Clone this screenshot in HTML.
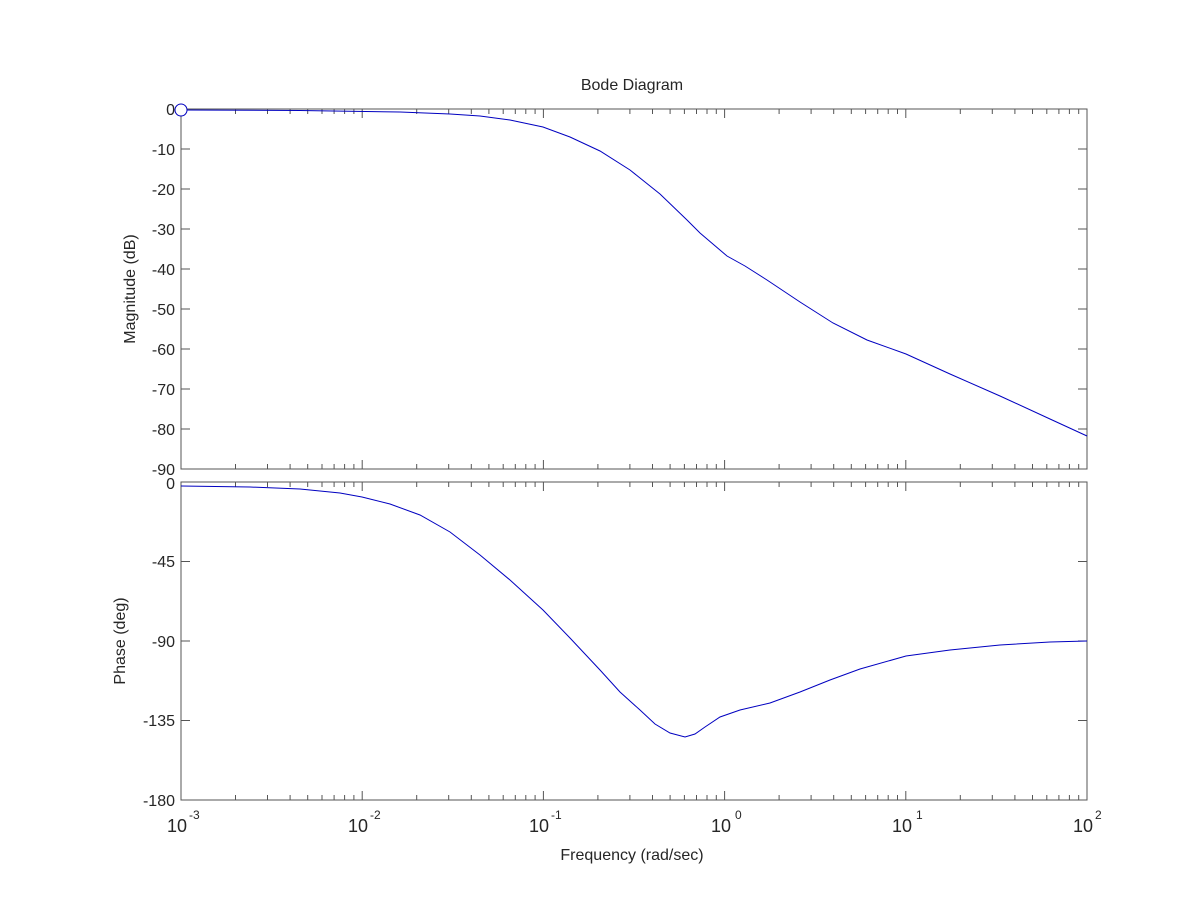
<!DOCTYPE html>
<html><head><style>body{margin:0;background:#fff}svg text{font-family:"Liberation Sans",Arial,sans-serif;font-size:16px;fill:#262626}</style></head>
<body>
<svg width="1201" height="900" xmlns="http://www.w3.org/2000/svg">
<rect width="1201" height="900" fill="#fff"/>
<defs>
<path id="mn" d="M0 109v5M0 469v-5M0 482v5M0 800v-5" stroke="#555" stroke-width="1"/>
<path id="mj" d="M0 109v9M0 469v-9M0 482v9M0 800v-9" stroke="#555" stroke-width="1"/>
</defs>
<g stroke="#555" stroke-width="1" fill="none">
<rect x="181" y="109" width="906" height="360"/>
<rect x="181" y="482" width="906" height="318"/>
<path d="M181 149h9M181 189h9M181 229h9M181 269h9M181 309h9M181 349h9M181 389h9M181 429h9M1087 149h-9M1087 189h-9M1087 229h-9M1087 269h-9M1087 309h-9M1087 349h-9M1087 389h-9M1087 429h-9M181 561.5h9M181 641h9M181 720.5h9M1087 561.5h-9M1087 641h-9M1087 720.5h-9"/>
</g>
<use href="#mj" x="362.2"/><use href="#mj" x="543.4"/><use href="#mj" x="724.6"/><use href="#mj" x="905.8"/>
<use href="#mn" x="235.5"/><use href="#mn" x="267.5"/><use href="#mn" x="290.1"/><use href="#mn" x="307.7"/><use href="#mn" x="322"/><use href="#mn" x="334.1"/><use href="#mn" x="344.6"/><use href="#mn" x="353.9"/>
<use href="#mn" x="416.7"/><use href="#mn" x="448.7"/><use href="#mn" x="471.3"/><use href="#mn" x="488.9"/><use href="#mn" x="503.2"/><use href="#mn" x="515.3"/><use href="#mn" x="525.8"/><use href="#mn" x="535.1"/>
<use href="#mn" x="597.9"/><use href="#mn" x="629.9"/><use href="#mn" x="652.5"/><use href="#mn" x="670.1"/><use href="#mn" x="684.4"/><use href="#mn" x="696.5"/><use href="#mn" x="707"/><use href="#mn" x="716.3"/>
<use href="#mn" x="779.1"/><use href="#mn" x="811.1"/><use href="#mn" x="833.7"/><use href="#mn" x="851.3"/><use href="#mn" x="865.6"/><use href="#mn" x="877.7"/><use href="#mn" x="888.2"/><use href="#mn" x="897.5"/>
<use href="#mn" x="960.3"/><use href="#mn" x="992.3"/><use href="#mn" x="1014.9"/><use href="#mn" x="1032.5"/><use href="#mn" x="1046.8"/><use href="#mn" x="1058.9"/><use href="#mn" x="1069.4"/><use href="#mn" x="1078.7"/>
<g text-anchor="end">
<text x="175" y="115">0</text><text x="175" y="155">-10</text><text x="175" y="195">-20</text><text x="175" y="235">-30</text><text x="175" y="275">-40</text><text x="175" y="315">-50</text><text x="175" y="355">-60</text><text x="175" y="395">-70</text><text x="175" y="435">-80</text><text x="175" y="475">-90</text>
<text x="175" y="489">0</text><text x="175" y="567">-45</text><text x="175" y="647">-90</text><text x="175" y="726">-135</text><text x="175" y="806">-180</text>
</g>
<g text-anchor="middle">
<text x="177" y="832" style="font-size:18px">10</text><text x="358" y="832" style="font-size:18px">10</text><text x="539" y="832" style="font-size:18px">10</text><text x="721" y="832" style="font-size:18px">10</text><text x="902" y="832" style="font-size:18px">10</text><text x="1083" y="832" style="font-size:18px">10</text>
</g>
<g>
<text x="189" y="819" style="font-size:12px">-3</text><text x="370" y="819" style="font-size:12px">-2</text><text x="551" y="819" style="font-size:12px">-1</text><text x="735" y="819" style="font-size:12px">0</text><text x="916" y="819" style="font-size:12px">1</text><text x="1095" y="819" style="font-size:12px">2</text>
</g>
<text x="632" y="90" text-anchor="middle">Bode Diagram</text>
<text x="632" y="860" text-anchor="middle">Frequency  (rad/sec)</text>
<text transform="translate(135,289) rotate(-90)" text-anchor="middle">Magnitude (dB)</text>
<text transform="translate(125,641) rotate(-90)" text-anchor="middle">Phase (deg)</text>
<polyline fill="none" stroke="#0000c0" stroke-width="1" points="181,110 300,110.5 400,112 450,114 480,116 510,120 543,127 570,137 600,151 630,170 660,194 687,220 700,233 727,256 745,266 767,280 800,302 833,323 867,340 906,354 950,374 1000,396 1050,419 1087,436"/>
<polyline fill="none" stroke="#0000c0" stroke-width="1" points="181,486 250,487 300,489 340,493 362,497 390,504 420,515 450,532 480,555 510,580 543,610 570,638 600,670 620,692 640,710 655,724 670,733 685,737 695,734 705,727 720,717 740,710 770,703 800,692 830,680 860,669 906,656 950,650 1000,645 1050,642 1087,641"/>
<circle cx="181" cy="110" r="6" fill="#fff" stroke="#0000c0" stroke-width="1"/>
</svg>
</body></html>
